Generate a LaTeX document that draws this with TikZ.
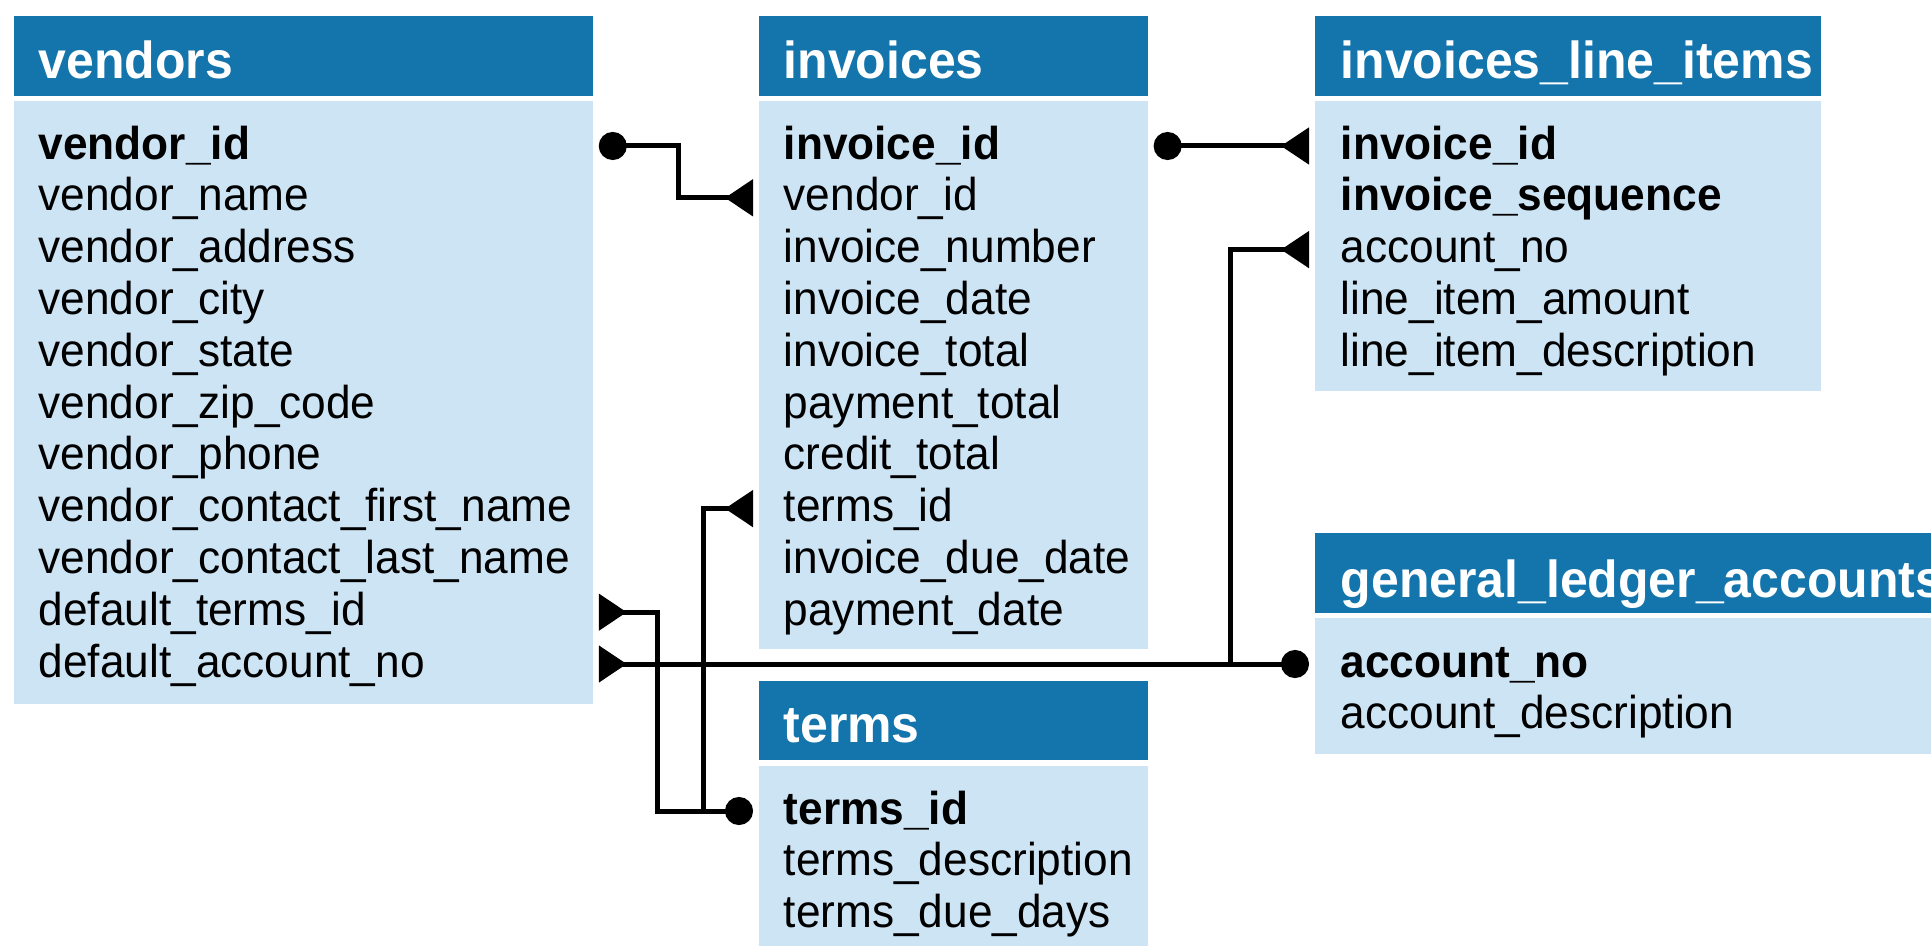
\documentclass[tikz,border=0pt]{standalone}
\usepackage{fontspec}
\setmainfont{Liberation Sans}[FakeStretch=0.96]
\usetikzlibrary{arrows.meta,positioning}
\definecolor{headblue}{RGB}{19,117,172}
\definecolor{bodyblue}{RGB}{205,228,244}
\tikzset{
  tabhead/.style={rectangle,fill=headblue,anchor=north west,inner sep=0pt,
    minimum height=8mm},
  tabbody/.style={rectangle,fill=bodyblue,anchor=north west,inner sep=0pt},
  tabtitle/.style={anchor=base west,inner sep=0pt,text=white,
    font=\fontsize{14.8}{17}\selectfont\bfseries},
  tabfield/.style={anchor=west,inner sep=0pt,text height=3.6mm,text depth=1mm,
    font=\fontsize{13.1}{15}\selectfont},
  keyfield/.style={tabfield,font=\fontsize{13.1}{15}\selectfont\bfseries},
  onemany/.style={line width=0.5mm,shorten <=0.5mm,shorten >=0.5mm,
    {Circle[length=2.8mm]}-{Triangle[reversed,length=2.8mm,width=3.6mm]}},
  tomany/.style={line width=0.5mm,shorten >=0.5mm,
    -{Triangle[reversed,length=2.8mm,width=3.6mm]}}
}
\begin{document}
\begin{tikzpicture}[x=0.01cm,y=-0.01cm]
  \clip (0,0) rectangle (1931,946);
  % vendors
  \node[tabhead,minimum width=5.79cm] (vhead) at (13,15) {};
  \node[tabbody,minimum width=5.79cm,minimum height=6.03cm] (vbody) at (13,100) {};
  \node[tabtitle] (vtitle) at (38,79) {vendors};
  \foreach \s/\f [count=\k from 0] in {keyfield/vendor\_id,tabfield/vendor\_name,
      tabfield/vendor\_address,tabfield/vendor\_city,tabfield/vendor\_state,
      tabfield/vendor\_zip\_code,tabfield/vendor\_phone,
      tabfield/vendor\_contact\_first\_name,tabfield/vendor\_contact\_last\_name,
      tabfield/default\_terms\_id,tabfield/default\_account\_no}
    \node[\s] (v\k) at (38,{146+51.8*\k}) {\f};
  % invoices
  \node[tabhead,minimum width=3.89cm] (ihead) at (758,15) {};
  \node[tabbody,minimum width=3.89cm,minimum height=5.48cm] (ibody) at (758,100) {};
  \node[tabtitle] (ititle) at (783,79) {invoices};
  \foreach \s/\f [count=\k from 0] in {keyfield/invoice\_id,tabfield/vendor\_id,
      tabfield/invoice\_number,tabfield/invoice\_date,tabfield/invoice\_total,
      tabfield/payment\_total,tabfield/credit\_total,tabfield/terms\_id,
      tabfield/invoice\_due\_date,tabfield/payment\_date}
    \node[\s] (i\k) at (783,{146+51.8*\k}) {\f};
  % invoices_line_items
  \node[tabhead,minimum width=5.06cm] (lhead) at (1314,15) {};
  \node[tabbody,minimum width=5.06cm,minimum height=2.9cm] (lbody) at (1314,100) {};
  \node[tabtitle] (ltitle) at (1340,79) {invoices\_line\_items};
  \foreach \s/\f [count=\k from 0] in {keyfield/invoice\_id,
      keyfield/invoice\_sequence,tabfield/account\_no,
      tabfield/line\_item\_amount,tabfield/line\_item\_description}
    \node[\s] (l\k) at (1340,{146+51.8*\k}) {\f};
  % general_ledger_accounts
  \node[tabhead,minimum width=6.4cm] (ghead) at (1314,532) {};
  \node[tabbody,minimum width=6.4cm,minimum height=1.36cm] (gbody) at (1314,617) {};
  \node[tabtitle] (gtitle) at (1340,597) {general\_ledger\_accounts};
  \foreach \s/\f [count=\k from 0] in {keyfield/account\_no,
      tabfield/account\_description}
    \node[\s] (g\k) at (1340,{664+51.8*\k}) {\f};
  % terms
  \node[tabhead,minimum width=3.89cm,minimum height=7.9mm] (thead) at (758,680) {};
  \node[tabbody,minimum width=3.89cm,minimum height=2cm] (tbody) at (758,765) {};
  \node[tabtitle] (ttitle) at (783,742) {terms};
  \foreach \s/\f [count=\k from 0] in {keyfield/terms\_id,
      tabfield/terms\_description,tabfield/terms\_due\_days}
    \node[\s] (t\k) at (783,{811+51.8*\k}) {\f};

  % relationships
  \draw[onemany] (vbody.east |- v0) -| ([xshift=8.5mm]vbody.east |- i1)
    -- (ibody.west |- i1);
  \draw[onemany] (ibody.east |- i0) -- (lbody.west |- l0);
  \draw[onemany] (gbody.west |- g0) -- (vbody.east |- v10);
  \draw[tomany] ([xshift=-8.3mm]gbody.west |- g0) |- (lbody.west |- l2);
  \draw[onemany] (tbody.west |- t0) -| ([xshift=6.4mm]vbody.east |- v9)
    -- (vbody.east |- v9);
  \draw[tomany] ([xshift=-5.4mm]tbody.west |- t0) |- (ibody.west |- i7);
\end{tikzpicture}
\end{document}
